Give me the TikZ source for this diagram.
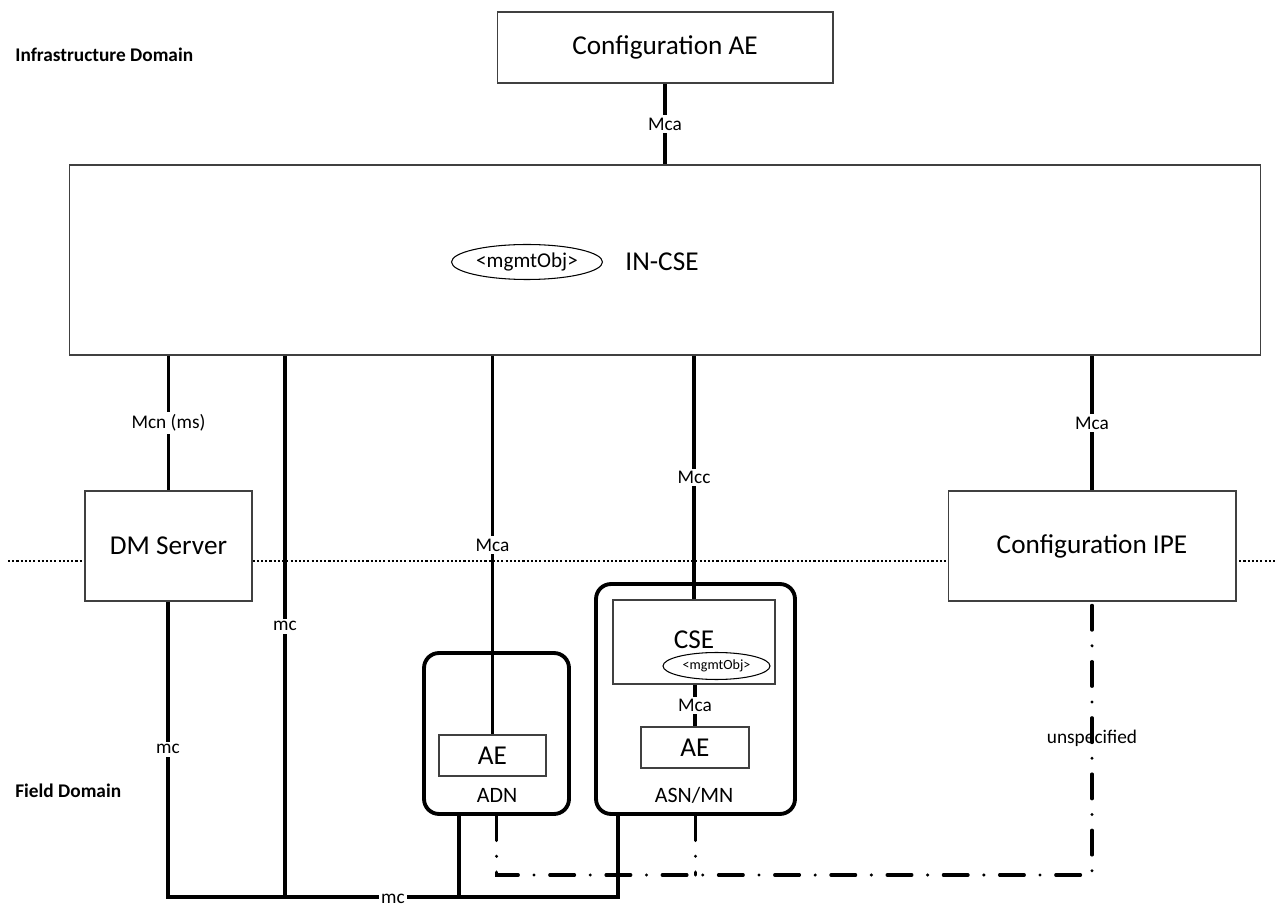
\documentclass[tikz,border=0pt]{standalone}
\usepackage{fontspec}
\setmainfont{Carlito}
\usetikzlibrary{shapes.geometric}
\begin{document}
\begin{tikzpicture}[x=0.02cm,y=-0.02cm,
  box/.style={draw=black!75, line width=0.6pt, fill=white, inner sep=0pt, font=\fontsize{15.5}{18}\selectfont},
  rbox/.style={draw=black, line width=2.2pt, rounded corners=0.3cm, fill=white, inner sep=0pt},
  conn/.style={line width=1.9pt},
  lbl/.style={fill=white, inner sep=1.5pt, font=\fontsize{11}{13}\selectfont},
  dom/.style={font=\fontsize{11}{13}\selectfont\bfseries, anchor=west, inner sep=0pt},
  ddot/.style={line width=1.9pt, line cap=round, dash pattern=on 14pt off 9pt on 0pt off 9pt},
  oval/.style={draw=black, line width=0.6pt, ellipse, inner sep=0pt, fill=white},
  ]
\useasboundingbox (0,0) rectangle (1275,908);

% domain separator
\coordinate (dl) at (8,561);
\coordinate (dr) at (1275,561);
\draw[black, line width=0.6pt, dash pattern=on 1.2pt off 1.2pt] (dl) -- (dr);

% domain labels
\node[dom] (infra) at (15,55) {Infrastructure Domain};
\node[dom] (field) at (15,791) {Field Domain};

% boxes
\node[box, minimum width=6.72cm, minimum height=1.42cm] (cae) at (665,47.5) {Configuration AE};
\node[box, minimum width=23.84cm, minimum height=3.8cm] (incse) at (665,260) {};
\node[oval, minimum width=3.02cm, minimum height=0.7cm, font=\fontsize{12}{14}\selectfont] (mo1) at (527,262) {<mgmtObj>};
\node[font=\fontsize{15.5}{18}\selectfont, inner sep=0pt] (inlbl) at (662,262) {IN-CSE};

\node[box, minimum width=3.34cm, minimum height=2.2cm] (dm) at (168.5,546) {DM Server};
\node[box, minimum width=5.76cm, minimum height=2.2cm] (ipe) at (1092,546) {Configuration IPE};

\node[rbox, minimum width=2.9cm, minimum height=3.22cm] (adn) at (496.5,733.5) {};
\node[box, minimum width=2.14cm, minimum height=0.82cm] (adnae) at (492.5,755.5) {AE};
\node[font=\fontsize{12.5}{15}\selectfont, inner sep=0pt] (adnlbl) at (497,795) {ADN};

\node[rbox, minimum width=3.98cm, minimum height=4.6cm] (asn) at (695.5,699) {};
\node[box, minimum width=3.24cm, minimum height=1.68cm] (cse) at (694,642) {};
\node[font=\fontsize{15.5}{18}\selectfont, inner sep=0pt] (csel) at (694,640) {CSE};
\node[oval, minimum width=2.14cm, minimum height=0.54cm, font=\fontsize{8}{10}\selectfont] (mo2) at (716.5,666) {<mgmtObj>};
\node[box, minimum width=2.16cm, minimum height=0.82cm] (asnae) at (695,747.5) {AE};
\node[font=\fontsize{12.5}{15}\selectfont, inner sep=0pt] (asnlbl) at (694,795) {ASN/MN};

% connectors
\draw[conn] (cae.south) -- node[lbl]{Mca} (incse.north);
\draw[conn] (incse.south -| dm.north) -- node[lbl]{Mcn (ms)} (dm.north);
\coordinate (b2) at (285,897);
\draw[conn] (incse.south -| b2) -- node[lbl]{mc} (b2);
\draw[conn] (incse.south -| adnae.north) -- node[lbl]{Mca} (adnae.north);
\draw[conn] (incse.south -| cse.north) -- node[lbl]{Mcc} (cse.north);
\draw[conn] (incse.south -| ipe.north) -- node[lbl]{Mca} (ipe.north);
\draw[conn] (cse.south -| asnae.north) -- node[lbl]{Mca} (asnae.north);

% bottom mc bus
\coordinate (b1) at (168,897);
\coordinate (b3) at (459,897);
\coordinate (b4) at (618,897);
\draw[conn] (dm.south -| b1) -- node[lbl]{mc} (b1);
\draw[conn] (b3 |- adn.south) -- (b3);
\draw[conn] (b4 |- asn.south) -- (b4);
\draw[conn, line cap=rect] (b1) -- (b4);
\node[lbl, inner ysep=3pt] (mcb) at (393,899) {mc};

% unspecified
\coordinate (c1) at (497,875);
\draw[ddot] (adn.south) -- (adn.south |- c1) -- (ipe.south |- c1) -- (ipe.south);
\draw[ddot] (asn.south) -- (asn.south |- c1);
\node[lbl, fill=none] (unsp) at (1092,738) {unspecified};
\end{tikzpicture}
\end{document}
